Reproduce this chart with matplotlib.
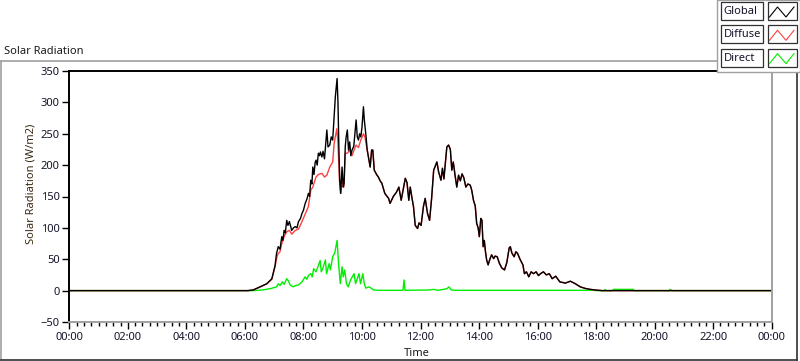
import matplotlib
matplotlib.use('Agg')
import matplotlib.pyplot as plt
from matplotlib.lines import Line2D
from matplotlib.patches import Rectangle
from matplotlib.ticker import MultipleLocator, FuncFormatter

plt.rcParams['font.family'] = ['Noto Sans', 'DejaVu Sans']

# time of day in hours
global_t = [0.0, 6.10, 6.28, 6.52, 6.75, 6.92, 7.03, 7.08, 7.14, 7.20, 7.26, 7.30, 7.34, 7.38,
            7.43, 7.47, 7.52, 7.60, 7.66, 7.72, 7.78, 7.83, 7.90, 7.95, 8.00, 8.06, 8.12,
            8.17, 8.21, 8.25, 8.29, 8.32, 8.36, 8.40, 8.43, 8.47, 8.51, 8.55, 8.58, 8.63,
            8.67, 8.72, 8.80, 8.84, 8.90, 8.95, 9.00, 9.05, 9.09, 9.15, 9.18, 9.21, 9.24,
            9.27, 9.30, 9.32, 9.36, 9.39, 9.43, 9.46, 9.50, 9.54, 9.58, 9.62, 9.66, 9.72,
            9.80, 9.84, 9.88, 9.92, 9.96, 10.00, 10.05, 10.08, 10.13, 10.18,
            10.23, 10.28, 10.33, 10.37, 10.42, 10.50, 10.56, 10.62, 10.68, 10.78, 10.91,
            10.96, 11.07, 11.18, 11.26, 11.34, 11.48, 11.54, 11.60, 11.65, 11.70, 11.76,
            11.82, 11.90, 11.95, 12.02, 12.10, 12.16, 12.24, 12.31, 12.38, 12.45, 12.56,
            12.62, 12.70, 12.75, 12.80, 12.90, 12.96, 13.02, 13.07, 13.12, 13.18, 13.24,
            13.30, 13.36, 13.42, 13.48, 13.55, 13.62, 13.70, 13.75, 13.81, 13.87, 13.92,
            13.97, 14.01, 14.06, 14.10, 14.14, 14.18, 14.22, 14.26, 14.31, 14.37, 14.43,
            14.50, 14.55, 14.62, 14.70, 14.78, 14.87, 14.95, 15.03, 15.07, 15.12, 15.20,
            15.26, 15.32, 15.40, 15.50, 15.55, 15.62, 15.70, 15.78, 15.86, 15.95, 16.03,
            16.10, 16.20, 16.30, 16.40, 16.50, 16.62, 16.76, 16.95, 17.12, 17.29, 17.46,
            17.63, 17.80, 17.97, 18.20, 24.0]
global_v = [0, 0, 1, 6, 11, 19, 40, 59, 70, 66, 86, 80, 96, 92,
            112, 104, 110, 96, 100, 102, 100, 110, 115, 123, 128, 139, 146,
            155, 150, 176, 170, 197, 185, 204, 208, 200, 219, 215, 221, 213,
            222, 210, 256, 229, 232, 245, 240, 277, 309, 338, 300, 230, 176,
            155, 180, 197, 165, 171, 230, 245, 256, 224, 237, 215, 224, 230,
            272, 245, 240, 250, 245, 260, 293, 272, 250, 224,
            210, 197, 224, 224, 192, 185, 181, 175, 171, 155, 147,
            139, 150, 157, 165, 144, 179, 172, 144, 165, 150, 134,
            104, 99, 108, 104, 134, 147, 123, 112, 147, 192, 205,
            189, 176, 195, 178, 229, 232, 225, 192, 205, 184, 165,
            184, 175, 186, 180, 165, 170, 168, 160, 144, 135, 107,
            100, 86, 115, 112, 70, 80, 62, 49, 41, 50, 57,
            51, 55, 54, 43, 36, 33, 45, 68, 70, 60, 54,
            62, 59, 50, 41, 27, 30, 22, 30, 27, 30, 24,
            27, 30, 25, 27, 19, 23, 14, 12, 15, 11, 6,
            3.5, 2, 1, 0, 0]

# diffuse differs from global only in the morning
diffuse_am_t = [0.0, 6.10, 6.28, 6.52, 6.75, 6.92, 7.03, 7.10, 7.14, 7.20, 7.26, 7.34, 7.43,
                7.52, 7.60, 7.72, 7.83, 7.95, 8.06, 8.17, 8.25, 8.32, 8.43, 8.51, 8.63,
                8.72, 8.80, 8.90, 9.00, 9.05, 9.14, 9.18, 9.23, 9.28, 9.33, 9.38, 9.43,
                9.50, 9.58, 9.66, 9.73, 9.80, 9.88, 9.96, 10.05, 10.10, 10.18]
diffuse_am_v = [0, 0, 1, 6, 11, 18, 38, 55, 59, 62, 75, 86, 94,
                96, 90, 96, 98, 110, 122, 134, 160, 165, 181, 185, 187,
                181, 184, 197, 205, 235, 258, 235, 176, 155, 180, 165, 219,
                219, 224, 215, 224, 232, 228, 240, 250, 245, 224]
pm_start = global_t.index(10.23)
diffuse_t = diffuse_am_t + global_t[pm_start:]
diffuse_v = diffuse_am_v + global_v[pm_start:]

direct_t = [0.0, 6.28, 6.60, 6.90, 7.08, 7.14, 7.20, 7.28, 7.34, 7.43, 7.48, 7.55, 7.65,
            7.72, 7.83, 7.95, 8.06, 8.12, 8.17, 8.25, 8.30, 8.35, 8.43, 8.51, 8.57,
            8.61, 8.66, 8.75, 8.79, 8.88, 8.92, 9.00, 9.07, 9.15, 9.20, 9.26, 9.32,
            9.36, 9.41, 9.47, 9.53, 9.61, 9.73, 9.78, 9.90, 9.95, 10.03, 10.08, 10.13,
            10.25, 10.40, 10.60, 11.40, 11.44, 11.47, 12.30, 12.45, 12.60, 12.90, 12.97,
            13.05, 13.20, 17.90, 18.00, 18.29, 18.31, 18.34, 18.55, 18.60, 18.62, 19.27,
            19.30, 20.50, 20.52, 20.60, 24.0]
direct_v = [0, 0, 1, 3.5, 6, 11, 8, 14, 10, 19, 16, 9, 6,
            8, 9, 14, 22, 18, 24, 27, 22, 35, 30, 40, 48,
            30, 35, 49, 27, 43, 33, 54, 60, 80, 43, 11, 38,
            22, 33, 11, 6, 17, 27, 11, 27, 11, 27, 11, 4,
            6, 1, 0.5, 0.5, 17, 0.5, 1, 2, 0.5, 3, 6,
            1, 0.5, 0.5, 0, 0, 2, 0, 0, 2, 2, 2,
            0, 0, 2, 0, 0]

series_names = ['Global', 'Diffuse', 'Direct']
series_colors = ['#000000', '#ff4040', '#00ee00']

W, H = 800, 361
def fx(x): return x / W
def fy(y): return 1 - y / H

FS = 8

fig = plt.figure(figsize=(W / 100, H / 100), dpi=100)
ax = fig.add_axes([fx(69.3), fy(322), (771.7 - 69.3) / W, (322 - 71) / H])

ax.plot(direct_t, direct_v, color=series_colors[2], lw=1.0)
ax.plot(diffuse_t, diffuse_v, color=series_colors[1], lw=1.0)
ax.plot(global_t, global_v, color=series_colors[0], lw=1.0)

ax.set_xlim(0, 24)
ax.set_ylim(-50, 350)
ax.xaxis.set_major_locator(MultipleLocator(2))
ax.xaxis.set_minor_locator(MultipleLocator(0.25))
ax.yaxis.set_major_locator(MultipleLocator(50))
ax.xaxis.set_major_formatter(FuncFormatter(lambda v, p: '%02d:00' % (int(round(v)) % 24)))
ax.tick_params(axis='both', which='major', length=5, width=1, color='black',
               labelsize=FS, labelcolor='#14142a', pad=2)
ax.tick_params(axis='x', which='minor', length=3, width=1, color='black')
for s in ['left', 'top']:
    ax.spines[s].set_color('black')
    ax.spines[s].set_linewidth(1.4)
for s in ['bottom', 'right']:
    ax.spines[s].set_color('#a0a0a0')
    ax.spines[s].set_linewidth(1.4)

fig.text(fx(4), fy(51), 'Solar Radiation', fontsize=FS, color='#1a1a1a', va='center', ha='left')
fig.text(fx(31), fy(184), 'Solar Radiation (W/m2)', fontsize=FS, color='#3a2a12',
         rotation=90, va='center', ha='center')
fig.text(fx(417), fy(354), 'Time', fontsize=FS, color='#1a1a1a', va='center', ha='center')

# outer frame
for x0, y0, x1, y1, c in [(1, 61, 717, 61, '#a0a0a0'), (1, 61, 1, 360, '#a0a0a0'),
                          (1, 360, 797, 360, '#303030'), (797, 72, 797, 360, '#303030')]:
    fig.add_artist(Line2D([fx(x0), fx(x1)], [fy(y0), fy(y1)], color=c, lw=1.2))

# legend panel
fig.add_artist(Rectangle((fx(717), fy(72)), fx(83), 72 / H, facecolor='white',
                         edgecolor='#a0a0a0', lw=1.0, zorder=5))
for i, (name, col) in enumerate(zip(series_names, series_colors)):
    top = 2 + 23.3 * i
    fig.add_artist(Rectangle((fx(721), fy(top + 18)), fx(42), 18 / H, facecolor='white',
                             edgecolor='#303030', lw=0.9, zorder=6))
    fig.text(fx(723.5), fy(top + 9.5), name, fontsize=FS, color='#14142a',
             va='center', ha='left', zorder=7)
    fig.add_artist(Rectangle((fx(767.5), fy(top + 18)), fx(29), 18 / H, facecolor='white',
                             edgecolor='#303030', lw=0.9, zorder=6))
    fig.add_artist(Line2D([fx(769.5), fx(777.5), fx(786), fx(794)],
                          [fy(top + 15), fy(top + 5), fy(top + 15), fy(top + 5)],
                          color=col, lw=0.8, zorder=7))

fig.savefig('out.png', dpi=100)
